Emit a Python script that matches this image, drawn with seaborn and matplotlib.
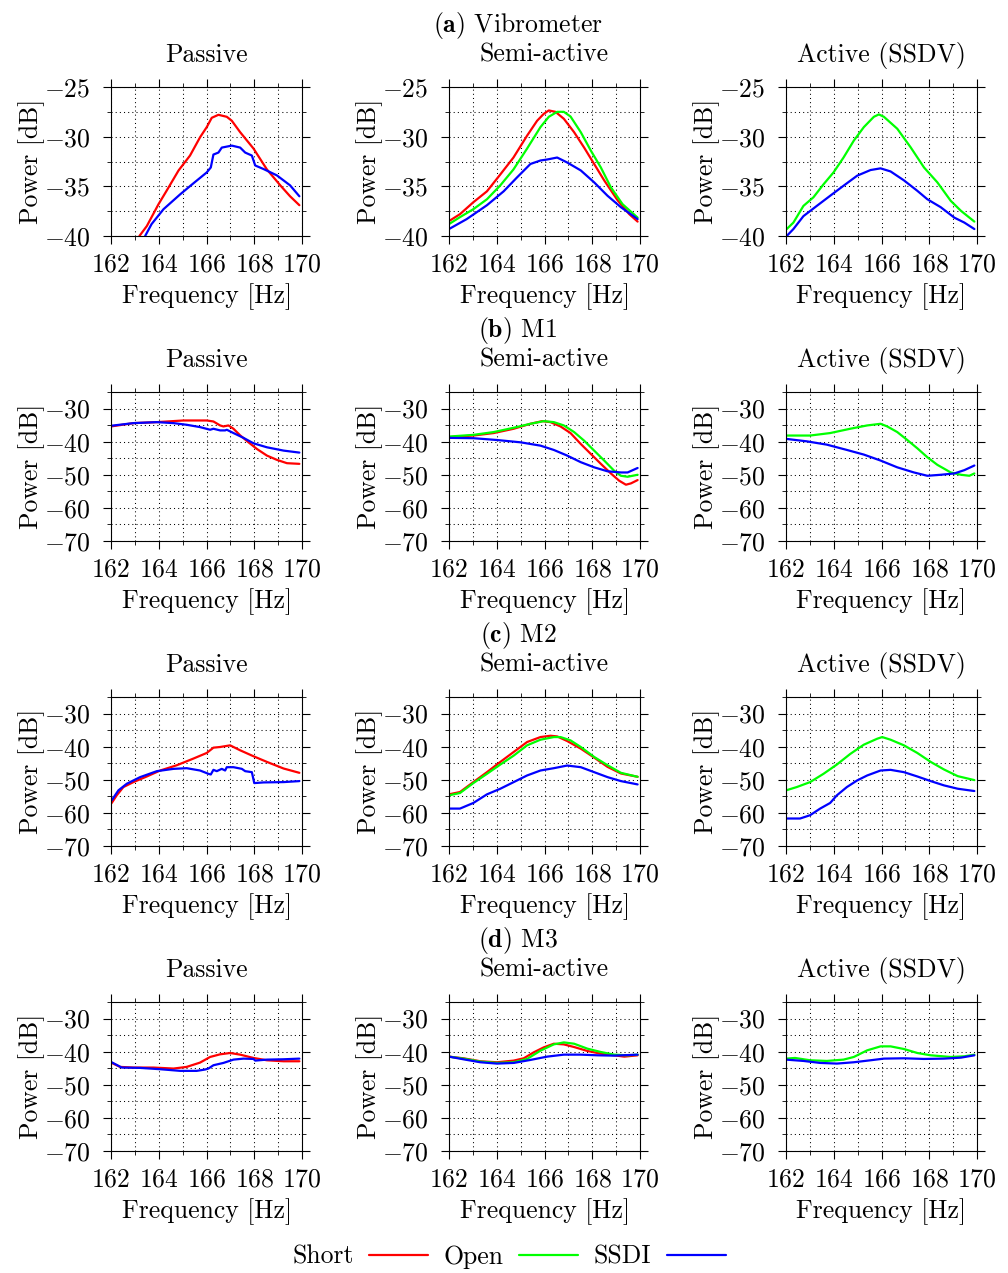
import matplotlib
matplotlib.use("Agg")
import matplotlib.pyplot as plt
from matplotlib.lines import Line2D
from matplotlib.ticker import MultipleLocator
import pandas as pd
import seaborn as sns

# ---------------------------------------------------------------- data
# (a) Vibrometer
vib_pas_short_f = [163.19, 163.5, 163.99, 164.34, 164.83, 165.31, 165.73, 166.01, 166.22, 166.5, 166.85, 167.06, 167.41, 167.97, 168.53, 169.09, 169.5, 169.89]
vib_pas_short_p = [-40.0, -39.0, -36.8, -35.4, -33.4, -31.9, -30.06, -29.04, -28.1, -27.8, -28.0, -28.4, -29.55, -31.2, -33.3, -34.9, -36.0, -36.9]
vib_pas_ssdi_f = [163.43, 163.7, 164.2, 164.9, 165.45, 166.01, 166.18, 166.29, 166.5, 166.64, 167.06, 167.41, 167.62, 167.9, 168.04, 168.39, 168.95, 169.5, 169.89]
vib_pas_ssdi_p = [-40.0, -38.8, -37.3, -35.8, -34.7, -33.6, -33.1, -31.8, -31.6, -31.1, -30.9, -31.1, -31.6, -31.9, -32.9, -33.26, -33.9, -34.9, -36.0]

vib_semi_short_f = [162.0, 162.46, 163.02, 163.59, 164.15, 164.7, 165.27, 165.69, 165.97, 166.18, 166.46, 166.81, 167.24, 167.66, 168.08, 168.5, 169.06, 169.55, 169.9]
vib_semi_short_p = [-38.5, -37.8, -36.6, -35.5, -33.8, -32.1, -29.9, -28.4, -27.7, -27.36, -27.5, -28.2, -29.55, -31.1, -32.75, -34.4, -36.4, -37.8, -38.55]
vib_semi_open_f = [162.0, 162.46, 163.02, 163.59, 164.15, 164.7, 165.27, 165.83, 166.18, 166.53, 166.81, 167.09, 167.52, 167.94, 168.36, 168.78, 169.27, 169.9]
vib_semi_open_p = [-38.8, -38.1, -37.3, -36.3, -34.9, -33.3, -31.2, -29.04, -28.0, -27.5, -27.5, -27.97, -29.55, -31.4, -33.1, -35.1, -36.8, -38.15]
vib_semi_ssdi_f = [162.0, 162.74, 163.59, 164.29, 164.85, 165.41, 165.83, 166.11, 166.53, 166.95, 167.52, 168.08, 168.64, 169.2, 169.9]
vib_semi_ssdi_p = [-39.3, -38.3, -36.9, -35.5, -34.1, -32.75, -32.4, -32.3, -32.1, -32.6, -33.4, -34.6, -35.95, -37.1, -38.3]

vib_act_open_f = [162.03, 162.31, 162.73, 163.15, 163.57, 163.99, 164.41, 164.84, 165.26, 165.68, 165.89, 166.1, 166.66, 167.22, 167.78, 168.34, 168.9, 169.33, 169.89]
vib_act_open_p = [-39.3, -38.65, -36.97, -36.1, -34.8, -33.6, -32.1, -30.4, -29.04, -28.0, -27.76, -28.0, -29.2, -31.07, -33.1, -34.6, -36.46, -37.47, -38.55]
vib_act_ssdi_f = [162.03, 162.31, 162.73, 163.29, 163.85, 164.41, 164.98, 165.54, 165.96, 166.38, 166.94, 167.5, 167.92, 168.48, 169.05, 169.47, 169.89]
vib_act_ssdi_p = [-40.0, -39.3, -38.0, -36.97, -35.95, -34.94, -33.93, -33.36, -33.19, -33.5, -34.4, -35.45, -36.3, -37.1, -38.15, -38.65, -39.3]

# (b) M1
m1_pas_short_f = [162.0, 162.94, 163.92, 165.03, 166.01, 166.29, 166.57, 166.71, 166.92, 167.13, 167.41, 167.76, 168.11, 168.53, 168.95, 169.37, 169.89]
m1_pas_short_p = [-35.4, -34.4, -34.1, -33.6, -33.6, -33.9, -35.1, -35.4, -35.1, -36.1, -38.1, -40.2, -42.2, -44.2, -45.5, -46.5, -46.7]
m1_pas_ssdi_f = [162.0, 162.94, 163.92, 164.62, 165.17, 165.73, 166.15, 166.29, 166.57, 166.78, 166.85, 167.13, 167.55, 167.97, 168.53, 169.23, 169.89]
m1_pas_ssdi_p = [-35.2, -34.4, -34.1, -34.4, -34.9, -35.6, -36.4, -36.1, -36.6, -36.6, -36.4, -37.4, -38.85, -40.5, -41.7, -42.7, -43.3]

m1_semi_short_f = [162.0, 163.02, 163.87, 164.71, 165.41, 165.9, 166.25, 166.67, 167.09, 167.52, 167.94, 168.36, 168.78, 169.13, 169.41, 169.62, 169.9]
m1_semi_short_p = [-38.65, -38.15, -37.4, -36.1, -34.6, -33.8, -34.1, -35.4, -37.4, -40.7, -43.7, -46.7, -49.6, -51.8, -53.0, -52.6, -51.6]
m1_semi_open_f = [162.0, 163.02, 163.87, 164.71, 165.41, 165.97, 166.39, 166.81, 167.24, 167.66, 168.08, 168.5, 168.92, 169.2, 169.48, 169.9]
m1_semi_open_p = [-38.45, -37.95, -37.1, -35.8, -34.6, -33.8, -34.1, -35.1, -37.1, -39.7, -42.7, -45.7, -48.8, -50.3, -50.6, -50.0]
m1_semi_ssdi_f = [162.0, 163.02, 164.01, 165.0, 165.83, 166.39, 166.95, 167.52, 168.08, 168.64, 169.2, 169.48, 169.9]
m1_semi_ssdi_p = [-38.85, -38.95, -39.5, -40.2, -41.2, -42.5, -44.2, -46.2, -47.75, -48.95, -49.3, -49.3, -47.95]

m1_act_open_f = [162.0, 163.01, 163.85, 164.69, 165.4, 165.96, 166.24, 166.66, 167.08, 167.5, 167.92, 168.34, 168.9, 169.33, 169.68, 169.89]
m1_act_open_p = [-38.15, -38.15, -37.4, -36.1, -35.1, -34.6, -35.4, -37.1, -39.5, -42.0, -44.7, -47.0, -49.3, -50.0, -50.3, -49.6]
m1_act_ssdi_f = [162.0, 162.87, 163.71, 164.55, 165.26, 165.96, 166.66, 167.36, 167.92, 168.48, 169.05, 169.47, 169.89]
m1_act_ssdi_p = [-39.15, -39.9, -40.9, -42.5, -43.9, -45.7, -47.75, -49.3, -50.3, -50.0, -49.6, -48.6, -47.2]

# (c) M2
m2_pas_short_f = [162.03, 162.24, 162.52, 162.94, 163.5, 164.06, 164.76, 165.45, 166.01, 166.29, 166.57, 166.99, 167.41, 167.97, 168.53, 169.23, 169.89]
m2_pas_short_p = [-57.0, -54.7, -52.2, -50.7, -49.0, -47.2, -45.6, -43.6, -41.9, -40.3, -40.1, -39.6, -41.1, -42.9, -44.6, -46.6, -47.9]
m2_pas_ssdi_f = [162.03, 162.31, 162.66, 163.22, 163.92, 164.62, 165.17, 165.73, 166.08, 166.18, 166.29, 166.43, 166.64, 166.78, 166.85, 167.13, 167.48, 167.62, 167.9, 168.0, 168.39, 169.23, 169.89]
m2_pas_ssdi_p = [-56.2, -53.2, -51.2, -49.2, -47.4, -46.7, -46.5, -47.2, -48.2, -48.4, -47.0, -47.4, -46.7, -47.2, -46.2, -46.2, -46.7, -47.4, -47.7, -51.0, -50.8, -50.7, -50.4]

m2_semi_short_f = [162.0, 162.46, 163.02, 163.59, 164.15, 164.71, 165.27, 165.83, 166.25, 166.53, 166.95, 167.52, 168.08, 168.64, 169.2, 169.9]
m2_semi_short_p = [-54.4, -53.7, -50.7, -47.7, -44.6, -41.6, -38.6, -37.1, -36.7, -36.9, -38.3, -40.6, -43.3, -46.1, -48.1, -49.1]
m2_semi_open_f = [162.0, 162.46, 163.02, 163.59, 164.15, 164.71, 165.27, 165.83, 166.39, 166.67, 167.09, 167.52, 168.08, 168.64, 169.2, 169.9]
m2_semi_open_p = [-54.7, -54.0, -51.0, -48.2, -45.4, -42.7, -39.6, -37.9, -37.1, -37.1, -38.1, -40.1, -43.1, -45.6, -47.9, -49.1]
m2_semi_ssdi_f = [162.0, 162.46, 163.02, 163.59, 164.15, 164.71, 165.27, 165.83, 166.39, 166.95, 167.52, 168.08, 168.64, 169.2, 169.9]
m2_semi_ssdi_p = [-58.7, -58.7, -57.0, -54.4, -52.7, -50.7, -48.7, -47.2, -46.5, -45.7, -46.2, -47.7, -49.2, -50.4, -51.4]

m2_act_open_f = [162.0, 162.45, 163.01, 163.57, 164.13, 164.69, 165.26, 165.82, 166.03, 166.38, 166.94, 167.5, 168.06, 168.62, 169.19, 169.89]
m2_act_open_p = [-53.2, -52.2, -50.7, -48.2, -45.4, -42.2, -39.4, -37.6, -37.1, -37.9, -39.6, -41.9, -44.6, -46.9, -48.9, -50.1]
m2_act_ssdi_f = [162.0, 162.59, 163.01, 163.43, 163.85, 164.13, 164.55, 164.98, 165.4, 165.96, 166.38, 166.94, 167.5, 168.06, 168.62, 169.19, 169.89]
m2_act_ssdi_p = [-61.7, -61.7, -60.7, -58.7, -57.0, -54.7, -52.2, -50.2, -48.7, -47.2, -47.0, -47.7, -49.0, -50.4, -51.7, -52.7, -53.4]

# (d) M3
m3_pas_short_f = [162.0, 162.38, 162.94, 163.78, 164.62, 165.17, 165.73, 166.15, 166.57, 166.99, 167.41, 167.97, 168.53, 169.23, 169.89]
m3_pas_short_p = [-43.3, -44.6, -44.8, -44.8, -45.1, -44.6, -43.3, -41.6, -40.8, -40.4, -40.9, -41.9, -42.6, -42.9, -42.9]
m3_pas_ssdi_f = [162.0, 162.45, 163.22, 164.06, 164.9, 165.59, 165.94, 166.08, 166.29, 166.71, 167.13, 167.55, 167.97, 168.04, 168.53, 169.23, 169.89]
m3_pas_ssdi_p = [-43.1, -44.8, -44.9, -45.3, -45.8, -45.8, -45.4, -45.1, -44.1, -43.4, -42.4, -42.1, -42.2, -42.7, -42.4, -42.3, -42.1]

m3_semi_short_f = [162.0, 162.6, 163.31, 164.01, 164.71, 165.13, 165.55, 165.97, 166.39, 166.81, 167.24, 167.8, 168.36, 168.92, 169.34, 169.9]
m3_semi_short_p = [-41.5, -42.0, -42.9, -43.2, -42.7, -42.0, -40.2, -38.7, -37.6, -37.8, -38.6, -39.8, -40.6, -41.1, -41.5, -41.1]
m3_semi_open_f = [162.0, 162.6, 163.31, 164.01, 164.71, 165.27, 165.83, 166.39, 166.81, 167.24, 167.8, 168.36, 168.92, 169.48, 169.9]
m3_semi_open_p = [-41.5, -42.1, -43.0, -43.4, -43.2, -42.2, -39.7, -37.8, -37.2, -37.6, -39.1, -40.1, -40.9, -41.1, -40.9]
m3_semi_ssdi_f = [162.0, 162.6, 163.31, 164.01, 164.71, 165.41, 166.11, 166.81, 167.52, 168.22, 168.92, 169.9]
m3_semi_ssdi_p = [-41.5, -42.3, -43.2, -43.6, -43.4, -42.5, -41.5, -40.9, -40.9, -41.1, -41.2, -40.9]

m3_act_open_f = [162.0, 162.38, 163.01, 163.71, 164.41, 164.84, 165.4, 165.96, 166.38, 166.94, 167.5, 168.06, 168.9, 169.47, 169.89]
m3_act_open_p = [-42.1, -41.9, -42.6, -42.8, -42.4, -41.6, -39.6, -38.4, -38.4, -39.2, -40.4, -41.1, -41.6, -41.4, -40.9]
m3_act_ssdi_f = [162.0, 162.73, 163.43, 164.13, 164.84, 165.54, 166.1, 166.94, 167.78, 168.62, 169.33, 169.89]
m3_act_ssdi_p = [-42.4, -42.8, -43.4, -43.6, -43.2, -42.6, -42.1, -42.0, -42.2, -42.1, -41.8, -41.1]

row_titles = [r"($\mathbf{a}$) Vibrometer", r"($\mathbf{b}$) M1", r"($\mathbf{c}$) M2", r"($\mathbf{d}$) M3"]
col_titles = ["Passive", "Semi-active", "Active (SSDV)"]
cases = ["Short", "Open", "SSDI"]
case_colors = {"Short": "#ff0000", "Open": "#00ff00", "SSDI": "#0000ff"}

panels = [
    [[("Short", vib_pas_short_f, vib_pas_short_p), ("SSDI", vib_pas_ssdi_f, vib_pas_ssdi_p)],
     [("Short", vib_semi_short_f, vib_semi_short_p), ("Open", vib_semi_open_f, vib_semi_open_p), ("SSDI", vib_semi_ssdi_f, vib_semi_ssdi_p)],
     [("Open", vib_act_open_f, vib_act_open_p), ("SSDI", vib_act_ssdi_f, vib_act_ssdi_p)]],
    [[("Short", m1_pas_short_f, m1_pas_short_p), ("SSDI", m1_pas_ssdi_f, m1_pas_ssdi_p)],
     [("Short", m1_semi_short_f, m1_semi_short_p), ("Open", m1_semi_open_f, m1_semi_open_p), ("SSDI", m1_semi_ssdi_f, m1_semi_ssdi_p)],
     [("Open", m1_act_open_f, m1_act_open_p), ("SSDI", m1_act_ssdi_f, m1_act_ssdi_p)]],
    [[("Short", m2_pas_short_f, m2_pas_short_p), ("SSDI", m2_pas_ssdi_f, m2_pas_ssdi_p)],
     [("Short", m2_semi_short_f, m2_semi_short_p), ("Open", m2_semi_open_f, m2_semi_open_p), ("SSDI", m2_semi_ssdi_f, m2_semi_ssdi_p)],
     [("Open", m2_act_open_f, m2_act_open_p), ("SSDI", m2_act_ssdi_f, m2_act_ssdi_p)]],
    [[("Short", m3_pas_short_f, m3_pas_short_p), ("SSDI", m3_pas_ssdi_f, m3_pas_ssdi_p)],
     [("Short", m3_semi_short_f, m3_semi_short_p), ("Open", m3_semi_open_f, m3_semi_open_p), ("SSDI", m3_semi_ssdi_f, m3_semi_ssdi_p)],
     [("Open", m3_act_open_f, m3_act_open_p), ("SSDI", m3_act_ssdi_f, m3_act_ssdi_p)]],
]

# ---------------------------------------------------------------- style
sns.set_theme(style="ticks")
plt.rcParams.update({
    "font.family": ["cmr10", "DejaVu Serif"],
    "mathtext.fontset": "cm",
    "axes.formatter.use_mathtext": True,
    "axes.unicode_minus": True,
    "axes.edgecolor": "black",
    "axes.linewidth": 0.8,
    "xtick.color": "black",
    "ytick.color": "black",
    "text.color": "black",
    "axes.labelcolor": "black",
})

TICK_FS = 18.5
LABEL_FS = 18.5
TITLE_FS = 18.5

W, H = 1008, 1273
fig = plt.figure(figsize=(W / 100, H / 100), dpi=100)

col_left_px = [111, 449, 786]
row_top_px = [87, 392, 697, 1002]
ax_w_px, ax_h_px = 191, 149

for r in range(4):
    for c in range(3):
        left = col_left_px[c] / W
        bottom = 1 - (row_top_px[r] + ax_h_px) / H
        ax = fig.add_axes([left, bottom, ax_w_px / W, ax_h_px / H])

        rows = []
        for case, f, p in panels[r][c]:
            rows += [{"freq": fi, "power": pi, "case": case} for fi, pi in zip(f, p)]
        df = pd.DataFrame(rows)
        sns.lineplot(data=df, x="freq", y="power", hue="case", palette=case_colors,
                     estimator=None, sort=False, legend=False, lw=1.6, ax=ax)

        ax.set_xlim(162, 170)
        ax.xaxis.set_major_locator(MultipleLocator(2))
        ax.xaxis.set_minor_locator(MultipleLocator(1))
        if r == 0:
            ax.set_ylim(-40, -25)
            ax.yaxis.set_major_locator(MultipleLocator(5))
            ax.yaxis.set_minor_locator(MultipleLocator(2.5))
        else:
            ax.set_ylim(-70, -25)
            ax.set_yticks([-70, -60, -50, -40, -30])
            ax.yaxis.set_minor_locator(MultipleLocator(5))

        ax.grid(which="both", ls=(0, (1, 3)), color="black", lw=0.75)
        ax.set_axisbelow(True)
        ax.tick_params(which="both", top=True, right=True, direction="out",
                       colors="black")
        ax.tick_params(which="major", length=5.8, width=0.8, labelsize=TICK_FS)
        ax.tick_params(axis="y", which="major", pad=9)
        ax.tick_params(axis="x", which="major", pad=6)
        ax.tick_params(which="minor", length=3, width=0.6)

        ax.set_xlabel("Frequency [Hz]", fontsize=LABEL_FS)
        ax.set_ylabel("Power [dB]", fontsize=LABEL_FS)
        ax.xaxis.set_label_coords(0.5, -0.32)
        ax.yaxis.set_label_coords(-0.345, 0.5)

        ax.text(0.5, 1.168, col_titles[c], transform=ax.transAxes,
                ha="center", va="baseline", fontsize=TITLE_FS)

    fig.text(518 / W, 1 - (row_top_px[r] - 55) / H, row_titles[r],
             ha="center", va="baseline", fontsize=TITLE_FS)

handles = [Line2D([], [], color=case_colors[k], lw=1.6) for k in cases]
fig.legend(handles, cases, loc="center", bbox_to_anchor=(0.5 + 5 / W, 1 - 1257 / H),
           ncol=3, frameon=False, markerfirst=False, fontsize=LABEL_FS,
           handlelength=2.3, handletextpad=0.6, columnspacing=0.6)

fig.savefig("out.png", dpi=100)
